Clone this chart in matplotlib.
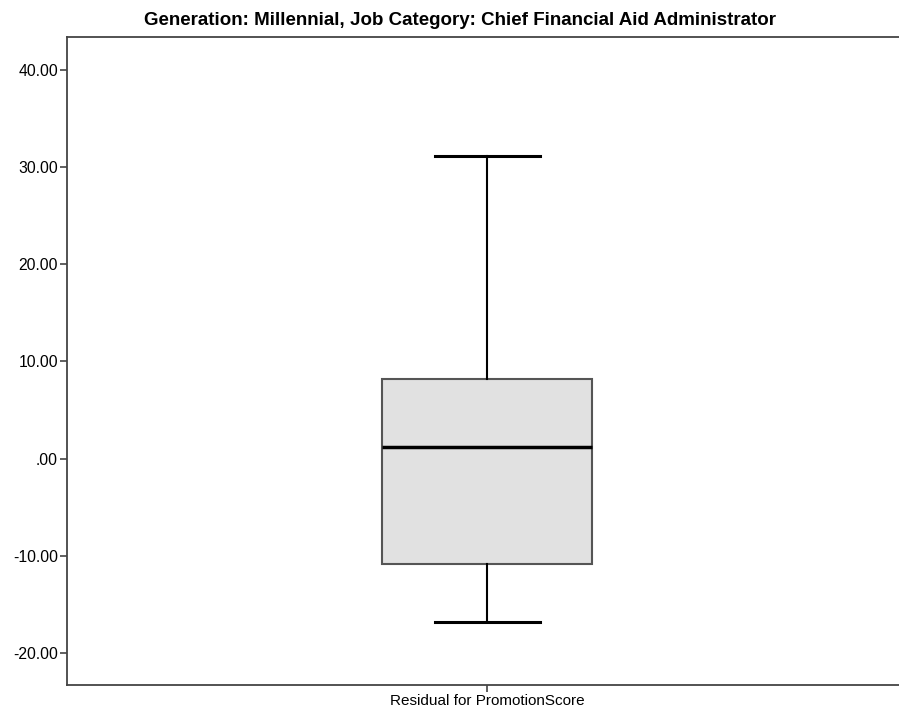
import matplotlib
matplotlib.use("Agg")
import matplotlib.pyplot as plt

# summary values for the residual box
variable = "Residual for PromotionScore"
whisker_low = -16.8
q1 = -10.8
median = 1.17
q3 = 8.17
whisker_high = 31.2

ytick_vals = [-20, -10, 0, 10, 20, 30, 40]
ytick_labels = ["-20.00", "-10.00", ".00", "10.00", "20.00", "30.00", "40.00"]

title = "Generation: Millennial, Job Category: Chief Financial Aid Administrator"

plt.rcParams['font.family'] = ['Liberation Sans', 'DejaVu Sans']

fig = plt.figure(figsize=(8.99, 7.17), dpi=100)
ax = fig.add_axes([0.0745, 0.0446, 0.9255, 0.9038])

stats = [{
    "label": variable,
    "whislo": whisker_low,
    "q1": q1,
    "med": median,
    "q3": q3,
    "whishi": whisker_high,
    "fliers": [],
}]
ax.bxp(stats, positions=[1], widths=0.2524, capwidths=0.126, patch_artist=True,
       boxprops=dict(facecolor="#e1e1e1", edgecolor="#555555", linewidth=1.5),
       medianprops=dict(color="black", linewidth=2.5),
       whiskerprops=dict(color="black", linewidth=1.5),
       capprops=dict(color="black", linewidth=2.2),
       showfliers=False)

ax.set_xlim(0.495, 1.495)
ax.set_ylim(-23.3, 43.4)
ax.set_yticks(ytick_vals)
ax.set_yticklabels(ytick_labels, fontsize=11.3)
ax.set_xticks([1])
ax.set_xticklabels([variable], fontsize=11)

for side in ["left", "top", "bottom"]:
    ax.spines[side].set_color("#444444")
    ax.spines[side].set_linewidth(1.3)
ax.spines["right"].set_visible(False)
ax.tick_params(axis="both", length=5, width=1.2, color="#444444", pad=1.5)

fig.text(0.512, 0.971, title, ha="center", va="center", fontsize=13.5,
         fontweight="bold")

fig.savefig("out.png", dpi=100)
